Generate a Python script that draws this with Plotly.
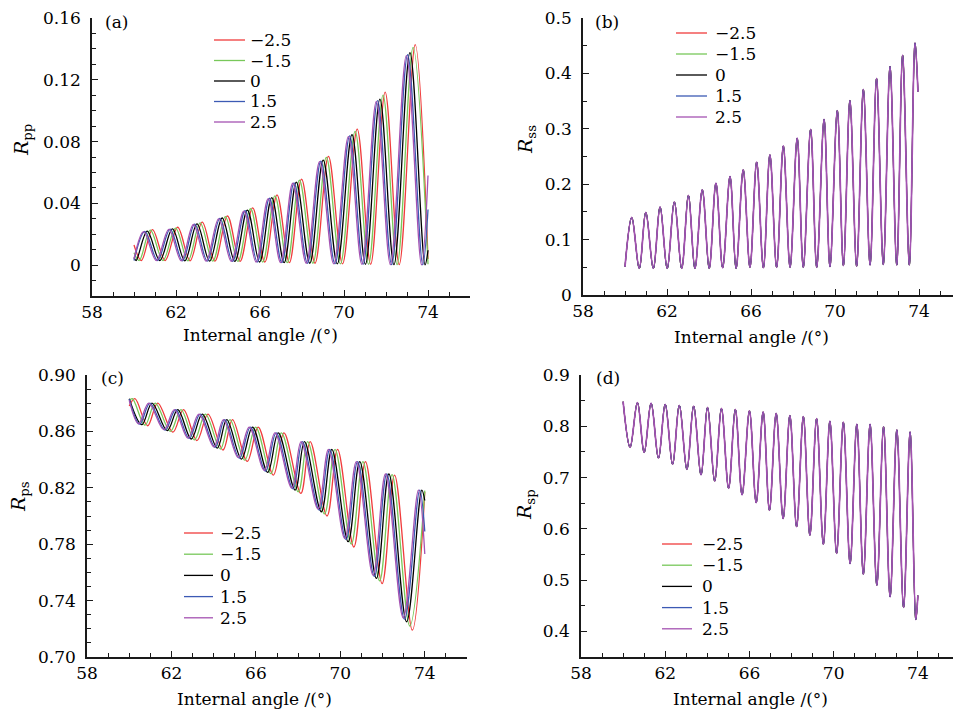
import plotly.graph_objects as go

# the page shows the figure 8 px in from the top-left corner
OFF = 8
W, H = 961 - OFF, 714 - OFF
FONT = "DejaVu Serif"
FS = 17

labels = ["\u22122.5", "\u22121.5", "0", "1.5", "2.5"]
colors = ["#f03c3c", "#78c85a", "#000000", "#3c5ab4", "#a452b2"]

# ---------- (a) Rpp : one list per curve (extrema) ----------
pp_m25_x = [60.0, 60.35, 60.88, 61.48, 62.08, 62.67, 63.25, 63.85, 64.45, 65.05, 65.65, 66.23, 66.81, 67.4, 67.98, 68.62, 69.26, 69.93, 70.63, 71.27, 71.96, 72.63, 73.39, 74.0]
pp_m25_y = [0.013, 0.003, 0.023, 0.003, 0.0245, 0.0028, 0.0278, 0.0026, 0.0318, 0.0024, 0.037, 0.002, 0.0455, 0.0016, 0.0557, 0.0012, 0.0704, 0.0008, 0.088, 0.0005, 0.112, 0.0003, 0.1427, 0.004]
pp_m15_x = [60.0, 60.25, 60.78, 61.38, 61.98, 62.57, 63.15, 63.75, 64.35, 64.95, 65.55, 66.13, 66.71, 67.3, 67.88, 68.52, 69.16, 69.83, 70.53, 71.17, 71.86, 72.53, 73.29, 74.0]
pp_m15_y = [0.008, 0.003, 0.0226, 0.003, 0.024, 0.0028, 0.0273, 0.0026, 0.0313, 0.0024, 0.0365, 0.002, 0.0448, 0.0016, 0.055, 0.0012, 0.0697, 0.0008, 0.0866, 0.0005, 0.110, 0.0003, 0.141, 0.0005]
pp_0_x = [60.0, 60.1, 60.63, 61.23, 61.83, 62.42, 63.0, 63.6, 64.2, 64.8, 65.4, 65.98, 66.56, 67.15, 67.73, 68.37, 69.01, 69.68, 70.38, 71.02, 71.71, 72.38, 73.14, 73.86, 74.0]
pp_0_y = [0.005, 0.003, 0.022, 0.003, 0.0235, 0.0028, 0.0267, 0.0026, 0.0305, 0.0024, 0.0356, 0.002, 0.0437, 0.0016, 0.0537, 0.0012, 0.068, 0.0008, 0.0845, 0.0005, 0.1075, 0.0003, 0.1376, 0.0002, 0.0096]
pp_p15_x = [60.0, 60.52, 61.12, 61.72, 62.31, 62.89, 63.49, 64.09, 64.69, 65.29, 65.87, 66.45, 67.04, 67.62, 68.26, 68.9, 69.57, 70.27, 70.91, 71.6, 72.27, 73.03, 73.75, 74.0]
pp_p15_y = [0.003, 0.0218, 0.003, 0.0233, 0.0028, 0.0265, 0.0026, 0.0302, 0.0024, 0.0352, 0.002, 0.0433, 0.0016, 0.0532, 0.0012, 0.0673, 0.0008, 0.0837, 0.0005, 0.1065, 0.0003, 0.1362, 0.0002, 0.036]
pp_p25_x = [60.0, 60.46, 61.06, 61.66, 62.25, 62.83, 63.43, 64.03, 64.63, 65.23, 65.81, 66.39, 66.98, 67.56, 68.2, 68.84, 69.51, 70.21, 70.85, 71.54, 72.21, 72.97, 73.69, 74.0]
pp_p25_y = [0.004, 0.0217, 0.003, 0.0232, 0.0028, 0.0263, 0.0026, 0.030, 0.0024, 0.035, 0.002, 0.043, 0.0016, 0.053, 0.0012, 0.067, 0.0008, 0.0832, 0.0005, 0.106, 0.0003, 0.1356, 0.0002, 0.058]

# ---------- (b) Rss : all five curves coincide ----------
ss_x = [60.0, 60.32, 60.68, 60.99, 61.35, 61.67, 62.01, 62.35, 62.70, 63.02, 63.33, 63.68, 64.01, 64.33, 64.65, 65.0, 65.29, 65.63, 65.95, 66.27, 66.59, 66.90, 67.22, 67.54, 67.86, 68.20, 68.49, 68.84, 69.13, 69.48, 69.76, 70.11, 70.40, 70.71, 71.03, 71.35, 71.67, 71.98, 72.30, 72.62, 72.94, 73.22, 73.54, 73.81, 73.95]
ss_y = [0.051, 0.140, 0.048, 0.149, 0.048, 0.159, 0.048, 0.168, 0.048, 0.180, 0.048, 0.190, 0.048, 0.202, 0.049, 0.214, 0.048, 0.226, 0.050, 0.240, 0.049, 0.253, 0.050, 0.269, 0.050, 0.283, 0.050, 0.299, 0.050, 0.317, 0.051, 0.333, 0.053, 0.351, 0.052, 0.371, 0.054, 0.391, 0.055, 0.4125, 0.054, 0.433, 0.054, 0.455, 0.367]

# ---------- (c) Rps : one list per curve ----------
ps_m25_x = [60.0, 60.27, 60.87, 61.35, 62.07, 62.57, 63.21, 63.73, 64.44, 64.89, 65.59, 66.11, 66.83, 67.33, 68.13, 68.57, 69.37, 69.87, 70.64, 71.19, 71.98, 72.57, 73.41, 74.0]
ps_m25_y = [0.878, 0.8832, 0.8640, 0.8801, 0.8595, 0.8754, 0.8535, 0.8723, 0.8468, 0.8683, 0.8388, 0.8631, 0.8290, 0.8589, 0.8160, 0.8527, 0.8000, 0.8473, 0.7780, 0.8385, 0.7520, 0.8290, 0.7190, 0.817]
ps_m15_x = [60.0, 60.15, 60.75, 61.23, 61.95, 62.45, 63.09, 63.61, 64.32, 64.77, 65.47, 65.99, 66.71, 67.21, 68.01, 68.45, 69.25, 69.75, 70.52, 71.07, 71.86, 72.45, 73.29, 74.0]
ps_m15_y = [0.882, 0.8832, 0.8644, 0.8801, 0.8600, 0.8754, 0.8540, 0.8723, 0.8475, 0.8683, 0.8396, 0.8631, 0.8300, 0.8589, 0.8172, 0.8527, 0.8015, 0.8473, 0.7800, 0.8385, 0.7540, 0.8294, 0.7220, 0.818]
ps_0_x = [60.0, 60.6, 61.08, 61.8, 62.3, 62.94, 63.46, 64.17, 64.62, 65.32, 65.84, 66.56, 67.06, 67.86, 68.3, 69.1, 69.6, 70.37, 70.92, 71.71, 72.3, 73.14, 73.86, 74.0]
ps_0_y = [0.8832, 0.8648, 0.8801, 0.8605, 0.8754, 0.8546, 0.8723, 0.8482, 0.8683, 0.8404, 0.8631, 0.8310, 0.8589, 0.8184, 0.8527, 0.803, 0.8473, 0.7818, 0.8385, 0.7558, 0.8298, 0.725, 0.8184, 0.811]
ps_p15_x = [60.0, 60.5, 60.98, 61.7, 62.2, 62.84, 63.36, 64.07, 64.52, 65.22, 65.74, 66.46, 66.96, 67.76, 68.2, 69.0, 69.5, 70.27, 70.82, 71.61, 72.2, 73.04, 73.76, 74.0]
ps_p15_y = [0.8828, 0.8651, 0.8801, 0.8609, 0.8754, 0.855, 0.8723, 0.8487, 0.8683, 0.841, 0.8631, 0.8318, 0.8589, 0.8192, 0.8527, 0.8042, 0.8473, 0.7832, 0.8385, 0.7572, 0.8298, 0.7268, 0.8184, 0.789]
ps_p25_x = [60.0, 60.44, 60.92, 61.64, 62.14, 62.78, 63.3, 64.01, 64.46, 65.16, 65.68, 66.4, 66.9, 67.7, 68.14, 68.94, 69.44, 70.21, 70.76, 71.55, 72.14, 72.98, 73.7, 74.0]
ps_p25_y = [0.8820, 0.8654, 0.8801, 0.8612, 0.8754, 0.8553, 0.8723, 0.8491, 0.8683, 0.8415, 0.8631, 0.8324, 0.8589, 0.8198, 0.8527, 0.805, 0.8473, 0.784, 0.8385, 0.7580, 0.8298, 0.7278, 0.8184, 0.773]

# ---------- (d) Rsp : all five curves coincide ----------
sp_x = [60.0, 60.33, 60.68, 61.0, 61.33, 61.68, 62.0, 62.35, 62.67, 63.03, 63.35, 63.70, 64.01, 64.35, 64.67, 65.01, 65.33, 65.65, 66.0, 66.32, 66.65, 66.95, 67.27, 67.60, 67.92, 68.24, 68.56, 68.87, 69.19, 69.51, 69.82, 70.14, 70.46, 70.78, 71.1, 71.41, 71.73, 72.05, 72.37, 72.68, 73.0, 73.32, 73.63, 73.90, 74.0]
sp_y = [0.848, 0.759, 0.846, 0.749, 0.845, 0.738, 0.843, 0.726, 0.841, 0.716, 0.8395, 0.705, 0.837, 0.693, 0.835, 0.679, 0.833, 0.666, 0.830, 0.651, 0.828, 0.636, 0.825, 0.620, 0.821, 0.604, 0.819, 0.5875, 0.815, 0.570, 0.810, 0.552, 0.808, 0.532, 0.804, 0.5115, 0.804, 0.490, 0.799, 0.467, 0.793, 0.4465, 0.789, 0.423, 0.470]

x_ticks = [58, 62, 66, 70, 74]

curves = {
    "a": [(pp_m25_x, pp_m25_y), (pp_m15_x, pp_m15_y), (pp_0_x, pp_0_y), (pp_p15_x, pp_p15_y), (pp_p25_x, pp_p25_y)],
    "b": [(ss_x, ss_y)] * 5,
    "c": [(ps_m25_x, ps_m25_y), (ps_m15_x, ps_m15_y), (ps_0_x, ps_0_y), (ps_p15_x, ps_p15_y), (ps_p25_x, ps_p25_y)],
    "d": [(sp_x, sp_y)] * 5,
}

def fx(p):
    return (p - OFF) / W

def fy(p):
    return 1 - (p - OFF) / H

# layout in screen pixels: x domain, y domain (top, bottom), y range, tick0, dtick, minor dtick, format
panels = [
    dict(key="a", n=1, xd=(92, 470), yd=(18, 296), yr=[-0.02, 0.16], t0=0, dt=0.04, mdt=0.01, fmt="",
         ylab="<i>R</i><sub>pp</sub>", ylabpos=(23, 140), xlabpos=(260, 335), tag=(103, 22),
         leg=(214, 245, 248, 40, 20.5), overlap=False),
    dict(key="b", n=2, xd=(583, 961), yd=(18, 295), yr=[0, 0.5], t0=0, dt=0.1, mdt=0.05, fmt="",
         ylab="<i>R</i><sub>ss</sub>", ylabpos=(527, 140), xlabpos=(751, 337), tag=(593, 22),
         leg=(676, 707, 713, 33, 21), overlap=True),
    dict(key="c", n=3, xd=(87, 467), yd=(375, 657), yr=[0.70, 0.90], t0=0.70, dt=0.04, mdt=0.01, fmt=".2f",
         ylab="<i>R</i><sub>ps</sub>", ylabpos=(20, 497), xlabpos=(254, 699), tag=(99, 378),
         leg=(184, 213, 218, 533, 21.2), overlap=False),
    dict(key="d", n=4, xd=(581, 960), yd=(375, 657), yr=[0.35, 0.90], t0=0.4, dt=0.1, mdt=0.05, fmt="",
         ylab="<i>R</i><sub>sp</sub>", ylabpos=(525, 505), xlabpos=(750, 699), tag=(594, 378),
         leg=(662, 692, 700, 544, 21.2), overlap=True),
]

fig = go.Figure()
layout = dict(width=W, height=H, margin=dict(l=0, r=0, t=0, b=0, autoexpand=False),
              paper_bgcolor="white", plot_bgcolor="white", showlegend=False,
              font=dict(family=FONT, size=FS, color="black"))
annotations = []
shapes = []
AX = "#1a1a1a"

for p in panels:
    n = p["n"]
    sfx = "" if n == 1 else str(n)
    for i, ((xs, ys), c) in enumerate(zip(curves[p["key"]], colors)):
        lw = 1.3
        if p["overlap"]:
            lw = 1.0 if i < 4 else 1.7
        fig.add_trace(go.Scatter(x=xs, y=ys, mode="lines", line=dict(color=c, width=lw, shape="spline", smoothing=1.0),
                                 xaxis="x" + sfx, yaxis="y" + sfx, hoverinfo="skip"))
    layout["xaxis" + sfx] = dict(domain=[fx(p["xd"][0]), min(1.0, fx(p["xd"][1]))], anchor="y" + sfx, range=[58, 76],
                                 automargin=False, ticklabeloverflow="allow",
                                 tickmode="array", tickvals=x_ticks, ticks="inside", ticklen=6, tickwidth=1.2,
                                 tickcolor=AX, showline=True, linecolor=AX, linewidth=1.5, showgrid=False,
                                 zeroline=False, tickfont=dict(family=FONT, size=FS),
                                 minor=dict(dtick=1, tick0=58, ticks="inside", ticklen=4, tickwidth=1.1, tickcolor=AX, showgrid=False))
    layout["yaxis" + sfx] = dict(domain=[fy(p["yd"][1]), fy(p["yd"][0])], anchor="x" + sfx, range=p["yr"],
                                 automargin=False, ticklabeloverflow="allow",
                                 tick0=p["t0"], dtick=p["dt"], tickformat=p["fmt"], ticks="inside", ticklen=6, tickwidth=1.2,
                                 tickcolor=AX, showline=True, linecolor=AX, linewidth=1.5, showgrid=False,
                                 zeroline=False, tickfont=dict(family=FONT, size=FS), ticklabelstandoff=6,
                                 minor=dict(dtick=p["mdt"], tick0=p["t0"], ticks="inside", ticklen=4, tickwidth=1.1, tickcolor=AX, showgrid=False))
    # axis titles
    annotations.append(dict(text="Internal angle /(\u00b0)", x=fx(p["xlabpos"][0]), y=fy(p["xlabpos"][1]),
                            xref="paper", yref="paper", showarrow=False, xanchor="center", yanchor="middle",
                            font=dict(family=FONT, size=FS)))
    annotations.append(dict(text=p["ylab"], x=fx(p["ylabpos"][0]), y=fy(p["ylabpos"][1]), textangle=-90,
                            xref="paper", yref="paper", showarrow=False, xanchor="center", yanchor="middle",
                            font=dict(family=FONT, size=FS + 2)))
    annotations.append(dict(text="(" + p["key"] + ")", x=fx(p["tag"][0]), y=fy(p["tag"][1]),
                            xref="paper", yref="paper", showarrow=False, xanchor="left", yanchor="middle",
                            font=dict(family=FONT, size=FS)))
    # legend
    lx0, lx1, tx, ly0, dy = p["leg"]
    for i, (lab, c) in enumerate(zip(labels, colors)):
        yy = ly0 + i * dy
        shapes.append(dict(type="line", xref="paper", yref="paper", x0=fx(lx0), x1=fx(lx1), y0=fy(yy), y1=fy(yy),
                           line=dict(color=c, width=1.3)))
        annotations.append(dict(text=lab, x=fx(tx), y=fy(yy), xref="paper", yref="paper", showarrow=False,
                                xanchor="left", yanchor="middle", font=dict(family=FONT, size=FS)))

layout["annotations"] = annotations
layout["shapes"] = shapes
fig.update_layout(**layout)
fig.write_html("out.html")
